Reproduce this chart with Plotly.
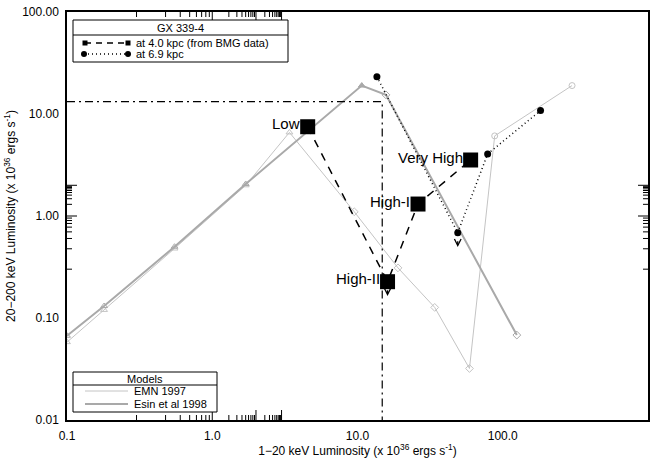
import math
import plotly.graph_objects as go

# ---------------- data ----------------
# BMG data at 4.0 kpc (big squares, dashed line)
bmg_x = [4.54, 16.1, 26.1, 60.1]
bmg_y = [7.5, 0.227, 1.31, 3.54]
bmg_labels = ["Low", "High-II", "High-I", "Very High"]
bmg_upper = [False, True, False, False]

# at 6.9 kpc (filled circles, dotted line)
far_x = [13.6, 49.0, 78.7, 182.0]
far_y = [23.2, 0.685, 4.06, 10.8]
far_upper = [False, True, False, False]

# Models
emn_x = [0.1, 0.18, 0.55, 1.7, 3.4, 9.5, 19.0, 34.0, 59.0, 88.0, 300.0]
emn_y = [0.058, 0.12, 0.48, 2.0, 6.6, 1.1, 0.31, 0.127, 0.032, 6.1, 19.0]
esin_x = [0.1, 0.18, 0.55, 1.7, 10.7, 15.7, 125.0]
esin_y = [0.067, 0.131, 0.50, 2.06, 19.0, 15.4, 0.068]

# dash-dot boundary
bound_x = [0.1, 14.8, 14.8]
bound_y = [13.2, 13.2, 0.01]

x_ticks = [0.1, 1, 10, 100, 1000]
x_ticktext = ["0.1", "1.0", "10.0", "100.0", "1000.0"]
y_ticks = [0.01, 0.1, 1, 10, 100]
y_ticktext = ["0.01", "0.10", "1.00", "10.00", "100.00"]

# ---------------- styles ----------------
FONT = "Liberation Sans"
EMN_COL = "#c4c4c4"
ESIN_COL = "#a9a9a9"
emn_sym = ["triangle-up-open"] * 5 + ["diamond-open"] * 4 + ["circle-open"] * 2
esin_sym = ["triangle-up-open"] * 4 + ["triangle-up", "diamond-open", "diamond-open"]

W, H = 665, 458
ML, MR, MT, MB = 67, 17, 12, 38
PW, PH = W - ML - MR, H - MT - MB
MAJOR_LEN, MINOR_LEN = 10, 5


def px(x):
    return (x - ML) / PW


def py(y):
    return (H - MB - y) / PH


fig = go.Figure()
fig.add_trace(go.Scatter(x=emn_x, y=emn_y, mode="lines+markers",
                         line=dict(color=EMN_COL, width=1),
                         marker=dict(symbol=emn_sym, size=6, color=EMN_COL,
                                     line=dict(color=EMN_COL, width=1)),
                         showlegend=False))
fig.add_trace(go.Scatter(x=esin_x, y=esin_y, mode="lines+markers",
                         line=dict(color=ESIN_COL, width=2),
                         marker=dict(symbol=esin_sym, size=6, color=ESIN_COL,
                                     line=dict(color=ESIN_COL, width=1)),
                         showlegend=False))
fig.add_trace(go.Scatter(x=bound_x, y=bound_y, mode="lines",
                         line=dict(color="black", width=1.2, dash="8px,4px,2px,4px"),
                         showlegend=False))
fig.add_trace(go.Scatter(x=far_x, y=far_y, mode="lines+markers",
                         line=dict(color="black", width=1.5, dash="1px,3px"),
                         marker=dict(symbol="circle", size=7, color="black"),
                         showlegend=False))
fig.add_trace(go.Scatter(x=bmg_x, y=bmg_y, mode="lines+markers",
                         line=dict(color="black", width=1.5, dash="8px,7px"),
                         marker=dict(symbol="square", size=15, color="black"),
                         showlegend=False))

annotations = []
# state labels, just left of each square and slightly raised
for xv, yv, lab in zip(bmg_x, bmg_y, bmg_labels):
    annotations.append(dict(x=math.log10(xv), y=math.log10(yv), xref="x", yref="y",
                            text=lab, showarrow=False, xanchor="right", yanchor="middle",
                            xshift=-6, yshift=3,
                            font=dict(family=FONT, size=15, color="black")))
# upper-limit arrows
for xs, ys, ups in [(bmg_x, bmg_y, bmg_upper), (far_x, far_y, far_upper)]:
    for xv, yv, up in zip(xs, ys, ups):
        if up:
            annotations.append(dict(
                x=math.log10(xv), y=math.log10(yv) - 0.14,
                ax=math.log10(xv), ay=math.log10(yv),
                xref="x", yref="y", axref="x", ayref="y",
                showarrow=True, arrowhead=5, arrowsize=1, arrowwidth=1.3,
                arrowcolor="black", text=" "))

shapes = []

# ---- axis tick marks (inside, on all four sides) ----
def decade_ticks(major):
    lo, hi = math.log10(major[0]), math.log10(major[-1])
    out = []
    for n in range(int(round(lo)), int(round(hi)) + 1):
        out.append((float(n), MAJOR_LEN))
        if n < round(hi):
            for k in range(2, 10):
                out.append((n + math.log10(k), MINOR_LEN))
    return out


for lv, ln in decade_ticks(x_ticks):
    for y0, y1 in [(0, ln / PH), (1, 1 - ln / PH)]:
        shapes.append(dict(type="line", xref="x", yref="paper", x0=lv, x1=lv,
                           y0=y0, y1=y1, line=dict(color="black", width=1),
                           layer="above"))
for lv, ln in decade_ticks(y_ticks):
    for x0, x1 in [(0, ln / PW), (1, 1 - ln / PW)]:
        shapes.append(dict(type="line", xref="paper", yref="y", y0=lv, y1=lv,
                           x0=x0, x1=x1, line=dict(color="black", width=1),
                           layer="above"))

# ---- top legend box ----
shapes.append(dict(type="rect", xref="paper", yref="paper",
                   x0=px(73), x1=px(288), y0=py(62), y1=py(20),
                   line=dict(color="black", width=1), fillcolor="white", layer="above"))
shapes.append(dict(type="line", xref="paper", yref="paper",
                   x0=px(73), x1=px(288), y0=py(35), y1=py(35),
                   line=dict(color="black", width=1), layer="above"))
annotations.append(dict(x=px(180), y=py(28), xref="paper", yref="paper",
                        xanchor="center", yanchor="middle",
                        text="GX 339-4", showarrow=False,
                        font=dict(family=FONT, size=11, color="black")))
shapes.append(dict(type="line", xref="paper", yref="paper",
                   x0=px(85), x1=px(128), y0=py(43), y1=py(43),
                   line=dict(color="black", width=1.3, dash="6px,5px"), layer="above"))
for cx in (85, 128):
    shapes.append(dict(type="rect", xref="paper", yref="paper",
                       x0=px(cx - 2.5), x1=px(cx + 2.5), y0=py(45.5), y1=py(40.5),
                       line=dict(width=0), fillcolor="black", layer="above"))
annotations.append(dict(x=px(134), y=py(43), xref="paper", yref="paper",
                        xanchor="left", yanchor="middle",
                        text="at 4.0 kpc (from BMG data)", showarrow=False,
                        font=dict(family=FONT, size=11, color="black")))
shapes.append(dict(type="line", xref="paper", yref="paper",
                   x0=px(84), x1=px(128), y0=py(54), y1=py(54),
                   line=dict(color="black", width=1.3, dash="1px,3px"), layer="above"))
for cx in (84, 128):
    shapes.append(dict(type="circle", xref="paper", yref="paper",
                       x0=px(cx - 3), x1=px(cx + 3), y0=py(57), y1=py(51),
                       line=dict(width=0), fillcolor="black", layer="above"))
annotations.append(dict(x=px(134), y=py(54.5), xref="paper", yref="paper",
                        xanchor="left", yanchor="middle",
                        text="at 6.9 kpc", showarrow=False,
                        font=dict(family=FONT, size=11, color="black")))

# ---- bottom legend box ----
shapes.append(dict(type="rect", xref="paper", yref="paper",
                   x0=px(73), x1=px(217), y0=py(412), y1=py(372),
                   line=dict(color="black", width=1), fillcolor="white", layer="above"))
shapes.append(dict(type="line", xref="paper", yref="paper",
                   x0=px(73), x1=px(217), y0=py(385), y1=py(385),
                   line=dict(color="black", width=1), layer="above"))
annotations.append(dict(x=px(145), y=py(379), xref="paper", yref="paper",
                        xanchor="center", yanchor="middle",
                        text="Models", showarrow=False,
                        font=dict(family=FONT, size=11, color="black")))
for yy, col, wd, lab in [(391, EMN_COL, 1, "EMN 1997"), (404, ESIN_COL, 2, "Esin et al 1998")]:
    shapes.append(dict(type="line", xref="paper", yref="paper",
                       x0=px(85), x1=px(128), y0=py(yy), y1=py(yy),
                       line=dict(color=col, width=wd), layer="above"))
    annotations.append(dict(x=px(132), y=py(yy), xref="paper", yref="paper",
                            xanchor="left", yanchor="middle", text=lab, showarrow=False,
                            font=dict(family=FONT, size=11, color="black")))

axis_common = dict(showline=True, linecolor="black", linewidth=1.5, mirror=True,
                   ticks="", showgrid=False, zeroline=False, automargin=False,
                   tickmode="array", ticklabelstandoff=4,
                   tickfont=dict(family=FONT, size=12, color="black"))

fig.update_layout(
    width=W, height=H,
    margin=dict(l=ML, r=MR, t=MT, b=MB, autoexpand=False),
    paper_bgcolor="white", plot_bgcolor="white",
    font=dict(family=FONT, color="black"),
    xaxis=dict(type="log", range=[-1, 3], tickvals=x_ticks, ticktext=x_ticktext,
               title=dict(text="1−20 keV Luminosity (x 10<sup>36</sup> ergs s<sup>-1</sup>)",
                          font=dict(family=FONT, size=12), standoff=6),
               **axis_common),
    yaxis=dict(type="log", range=[-2, 2], tickvals=y_ticks, ticktext=y_ticktext,
               title=dict(text="20−200 keV Luminosity (x 10<sup>36</sup> ergs s<sup>-1</sup>)",
                          font=dict(family=FONT, size=12), standoff=4),
               **axis_common),
    shapes=shapes,
    annotations=annotations,
    showlegend=False,
)

fig.write_html("out.html")
